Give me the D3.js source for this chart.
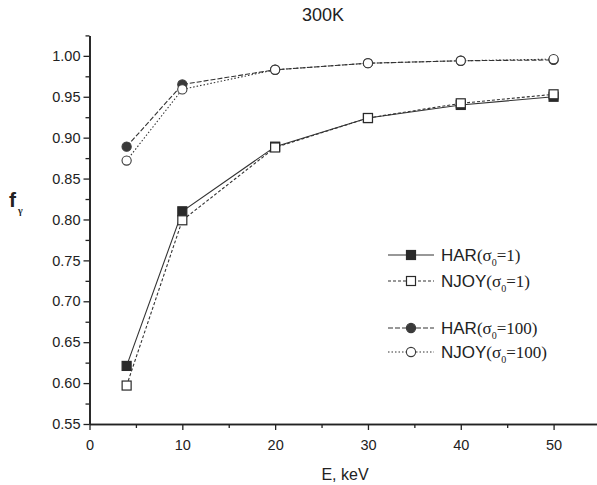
<!DOCTYPE html>
<html>
<head>
<meta charset="utf-8">
<script src="https://cdn.jsdelivr.net/npm/d3@7"></script>
<style>
  body { margin: 0; background: #fff; }
  text { font-family: "Liberation Sans", Arial, sans-serif; fill: #222; }
</style>
</head>
<body>
<div id="chart"></div>
<script>
var energies = [4, 10, 20, 30, 40, 50];
var harS1 = [0.621, 0.810, 0.889, 0.924, 0.940, 0.950];
var njoyS1 = [0.597, 0.799, 0.888, 0.924, 0.942, 0.953];
var harS100 = [0.889, 0.965, 0.983, 0.991, 0.994, 0.995];
var njoyS100 = [0.872, 0.959, 0.983, 0.991, 0.994, 0.996];
var xTicks = [0, 10, 20, 30, 40, 50];
var yTicks = [0.55, 0.60, 0.65, 0.70, 0.75, 0.80, 0.85, 0.90, 0.95, 1.00];

var series = [
    { name: "HAR", sigma: "1", values: harS1, marker: "square", filled: true, dash: null },
    { name: "NJOY", sigma: "1", values: njoyS1, marker: "square", filled: false, dash: "3,2" },
    { name: "HAR", sigma: "100", values: harS100, marker: "circle", filled: true, dash: "5,2" },
    { name: "NJOY", sigma: "100", values: njoyS100, marker: "circle", filled: false, dash: "1.5,2" }
];

var width = 597, height = 485;
var svg = d3.select("#chart").append("svg")
    .attr("width", width)
    .attr("height", height);

var x = d3.scaleLinear().domain([0, 55]).range([89.5, 600]);
var y = d3.scaleLinear().domain([0.55, 1.025]).range([424, 35.4]);

// axes
var xAxis = d3.axisBottom(x).tickValues(xTicks).tickFormat(d3.format("d")).tickSize(6).tickSizeOuter(0);
var xMinor = d3.axisBottom(x).tickValues([5, 15, 25, 35, 45]).tickFormat("").tickSize(4).tickSizeOuter(0);
var yAxis = d3.axisLeft(y).tickValues(yTicks).tickFormat(d3.format(".2f")).tickSize(6).tickSizeOuter(0);
var yMinor = d3.axisLeft(y).tickValues(d3.range(0.575, 1.03, 0.05)).tickFormat("").tickSize(4).tickSizeOuter(0);

function styleAxis(g) {
    g.selectAll(".domain").attr("stroke", "#222").attr("stroke-width", 1.6);
    g.selectAll(".tick line").attr("stroke", "#222").attr("stroke-width", 1.3);
    g.selectAll(".tick text").attr("fill", "#222")
        .style("font-family", "'Liberation Sans', Arial, sans-serif").style("font-size", "14.5px");
}

svg.append("g").attr("transform", "translate(0,424)").call(xMinor).call(styleAxis);
svg.append("g").attr("transform", "translate(0,424)").call(xAxis).call(styleAxis)
    .selectAll(".tick text").attr("dy", "1.2em");
svg.append("g").attr("transform", "translate(89.5,0)").call(yMinor).call(styleAxis);
svg.append("g").attr("transform", "translate(89.5,0)").call(yAxis).call(styleAxis)
    .selectAll(".tick text").attr("x", -9);

// titles
svg.append("text").attr("x", 323).attr("y", 21).attr("text-anchor", "middle")
    .style("font-size", "18px").text("300K");
svg.append("text").attr("x", 345).attr("y", 480).attr("text-anchor", "middle")
    .style("font-size", "16px").text("E, keV");
var fl = svg.append("text").attr("x", 9).attr("y", 207)
    .style("font-size", "21px").style("font-weight", "bold");
fl.append("tspan").text("f");
fl.append("tspan").attr("dx", 2).attr("dy", 7).style("font-size", "10px").style("font-weight", "bold")
    .style("font-family", "'Liberation Serif', serif").text("γ");

// lines and markers
var line = d3.line()
    .x(function(d, i) { return x(energies[i]); })
    .y(function(d) { return y(d); });

function drawMarker(g, type, filled, cx, cy) {
    if (type === "square") {
        g.append("rect").attr("x", cx - 4.5).attr("y", cy - 4.5).attr("width", 9).attr("height", 9)
            .attr("fill", filled ? "#2a2a2a" : "#fff").attr("stroke", "#2a2a2a").attr("stroke-width", 1.2);
    } else {
        g.append("circle").attr("cx", cx).attr("cy", cy).attr("r", 4.6)
            .attr("fill", filled ? "#3a3a3a" : "#fff").attr("stroke", "#3a3a3a").attr("stroke-width", 1.1);
    }
}

series.forEach(function(s) {
    var g = svg.append("g");
    g.append("path").datum(s.values)
        .attr("d", line)
        .attr("fill", "none")
        .attr("stroke", "#333")
        .attr("stroke-width", 1.1)
        .attr("stroke-dasharray", s.dash);
    s.values.forEach(function(v, i) {
        drawMarker(g, s.marker, s.filled, x(energies[i]), y(v));
    });
});

// legend
var legendY = [255, 281, 328, 352];
series.forEach(function(s, i) {
    var g = svg.append("g");
    var ly = legendY[i];
    g.append("line").attr("x1", 388).attr("x2", 434).attr("y1", ly).attr("y2", ly)
        .attr("stroke", "#333").attr("stroke-width", 1.1).attr("stroke-dasharray", s.dash);
    drawMarker(g, s.marker, s.filled, 411, ly);
    var t = g.append("text").attr("x", 441).attr("y", ly + 6).style("font-size", "17px");
    t.append("tspan").text(s.name);
    var serif = "'Liberation Serif', 'Times New Roman', serif";
    t.append("tspan").style("font-family", serif).text("(σ");
    t.append("tspan").style("font-family", serif).style("font-size", "10px").attr("dy", 5).text("0");
    t.append("tspan").style("font-family", serif).attr("dy", -5).text("=" + s.sigma + ")");
});
</script>
</body>
</html>
